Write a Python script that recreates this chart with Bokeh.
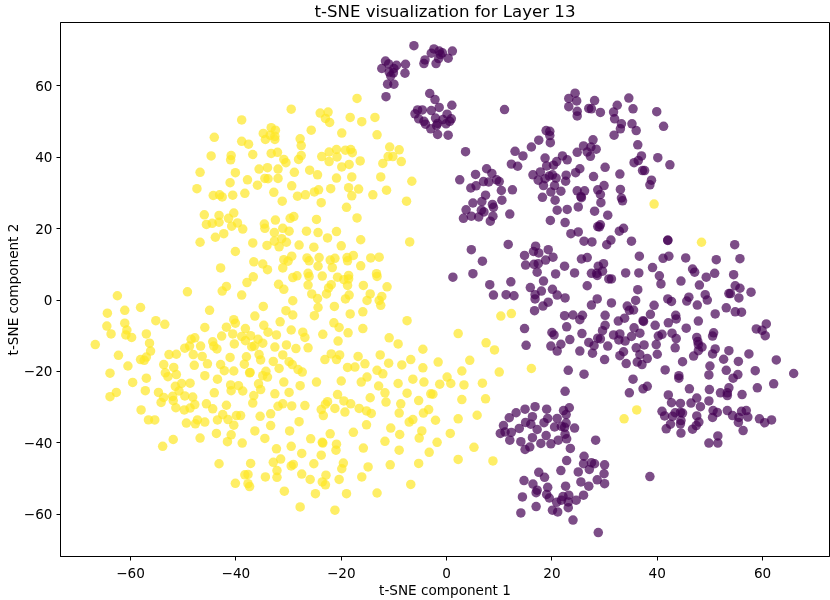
from bokeh.plotting import figure
from bokeh.models import FixedTicker, Range1d
from bokeh.embed import file_html
from bokeh.resources import INLINE

title_text = "t-SNE visualization for Layer 13"
x_label = "t-SNE component 1"
y_label = "t-SNE component 2"
tick_values = [-60, -40, -20, 0, 20, 40, 60]
y_tick_values = [-60, -40, -20, 0, 20, 40, 60]
x_limits = (-73.3, 72.7)
y_limits = (-71.9, 77.8)

class_1_upper = [
(-29.5,53.5),(-38.9,50.5),(-24.0,52.4),(-44.1,45.6),(-33.3,48.3),(-32.5,47.6),(-34.8,46.7),(-33.5,46.2),(-34.4,45.0),(-32.6,45.0),
(-32.6,45.9),(-25.7,47.6),(-27.8,45.2),(-27.6,43.3),(-38.9,44.5),(-37.6,43.7),(-44.7,40.4),(-40.9,40.5),(-41.0,39.3),(-36.8,40.8),
(-33.3,41.1),(-32.1,41.4),(-30.9,39.4),(-30.5,38.5),(-28.1,39.4),(-27.6,40.5),(-23.7,40.2),(-46.8,35.8),(-40.1,35.7),(-35.6,36.7),
(-34.0,37.1),(-32.0,36.7),(-28.9,35.8),(-26.0,36.4),(-24.5,35.1),(-41.1,32.9),(-37.8,33.7),(-34.5,34.1),(-33.9,34.0),(-32.0,34.1),
(-47.4,31.2),(-35.9,32.2),(-29.4,32.0),(-44.3,29.3),(-43.1,29.5),(-42.6,28.9),(-40.6,29.4),(-38.3,29.9),(-32.8,30.2),(-31.2,27.7),
(-28.3,29.1),(-26.8,29.5),(-25.1,30.3),(-24.3,30.9),(-23.8,27.3),
(-17.0,56.5),(-22.5,52.7),(-23.0,50.9),(-22.2,49.8),(-18.3,51.2),(-16.1,50.0),(-13.6,51.2),(-19.9,46.8),(-13.2,46.3),(-22.3,41.5),
(-20.9,42.2),(-20.8,40.1),(-22.3,38.8),(-19.2,42.0),(-18.2,42.2),(-17.9,41.3),(-16.4,39.0),(-18.5,38.0),(-19.9,37.3),(-20.9,34.2),
(-18.0,34.5),(-22.0,31.2),(-18.6,31.5),(-16.7,31.1),(-18.0,29.2),(-14.0,29.5),(-11.4,30.8),(-19.0,26.0),(-7.6,27.7),(-6.6,33.3),
(-12.5,34.5),(-12.1,38.3),(-11.1,40.2),(-10.2,40.2),(-10.8,42.9),(-9.0,42.1),(-8.6,38.8),
]

class_1_middle = [
(-46.0,23.9),(-43.2,23.7),(-40.4,24.4),(-41.4,22.9),(-44.5,21.5),(-45.6,21.2),(-43.2,21.8),(-39.7,21.6),(-40.8,20.7),(-38.7,19.9),
(-34.6,21.3),(-34.5,20.1),(-32.5,22.4),(-29.7,22.9),(-29.0,23.4),(-24.7,22.6),(-17.0,23.0),(-31.1,20.1),(-29.9,19.3),(-32.7,18.9),
(-26.6,19.3),(-24.4,18.9),(-20.9,19.2),(-22.6,17.4),(-16.3,16.9),(-7.0,16.3),(-43.9,17.6),(-42.3,18.6),(-46.8,16.2),(-36.8,16.0),
(-34.1,15.3),(-32.7,16.5),(-31.3,17.2),(-30.4,16.2),(-31.8,14.9),(-28.0,15.4),(-25.2,14.8),(-20.0,15.2),(-40.1,13.6),(-29.4,12.3),
(-30.9,11.3),(-30.1,10.9),(-36.6,10.7),(-34.9,10.1),(-34.0,8.5),(-31.1,9.0),(-42.9,9.0),(-26.5,11.8),(-26.1,11.0),(-24.2,11.9),
(-21.2,11.7),(-22.1,11.2),(-24.4,9.5),(-21.7,9.1),(-18.9,11.9),(-17.7,12.5),(-18.8,11.0),(-16.3,9.6),(-14.4,11.8),(-12.8,12.0),
(-26.3,7.5),(-26.1,6.6),(-28.4,6.8),(-29.2,6.3),(-23.6,6.7),(-20.7,6.4),(-18.6,6.9),(-19.5,5.7),(-18.6,5.9),(-13.3,7.4),
(-13.2,6.6),(-36.7,6.5),(-37.9,4.9),(-41.8,3.8),(-42.6,2.5),(-31.9,4.4),(-30.9,3.0),(-26.3,4.2),(-21.9,4.3),(-22.4,3.4),
(-22.8,1.7),(-18.8,4.1),(-15.8,4.1),(-11.3,3.7),(-38.9,1.4),(-25.6,1.7),(-24.5,0.4),(-18.5,1.4),(-19.2,0.3),(-14.5,1.7),
(-15.1,-0.1),(-12.3,1.0),(-12.8,-0.1),(-12.5,-1.5),(-29.2,-0.2),(-34.8,-1.8),(-24.4,-2.1),(-21.3,-1.8),(-45.0,-2.9),(-30.5,-3.0),
(-29.2,-4.2),(-25.1,-4.4),(-18.3,-3.9),(-15.9,-3.3),(-7.5,-5.8),(-36.4,-4.5),(-40.4,-5.5),(-40.1,-6.5),(-31.6,-6.1),(-21.4,-6.4),
(-34.7,-7.1),(-45.9,-7.7),(-41.8,-7.6),(-38.2,-8.0),(-29.5,-8.4),(-20.4,-7.7),(-15.9,-8.0),
]

class_1_left = [
(-62.5,1.2),(-49.2,2.3),(-58.1,-2.1),(-64.4,-3.7),(-61.1,-2.9),(-55.2,-5.8),(-53.5,-6.8),(-64.5,-7.3),(-61.1,-6.5),(-60.7,-8.4),
(-63.7,-9.5),(-60.9,-9.8),(-59.8,-10.5),(-57.0,-9.5),(-66.7,-12.5),(-56.4,-12.1),(-56.2,-14.3),(-62.3,-15.5),(-57.0,-16.0),(-58.1,-16.7),
(-57.4,-16.9),(-60.5,-18.5),(-63.9,-20.5),(-52.7,-15.3),(-51.3,-15.2),(-53.7,-18.1),(-51.8,-18.9),(-53.4,-20.4),(-52.9,-21.5),(-51.3,-20.9),
(-57.0,-21.9),(-59.6,-23.1),(-57.2,-25.4),(-62.7,-25.9),(-63.9,-27.1),(-54.7,-25.9),(-53.7,-27.3),(-54.2,-28.7),(-51.5,-24.2),(-50.3,-23.4),
(-48.7,-23.3),(-50.8,-25.5),(-52.0,-27.0),(-51.9,-28.2),(-49.7,-26.9),(-51.4,-30.2),(-49.8,-30.8),(-48.7,-30.3),(-58.0,-30.8),(-56.6,-33.6),
(-55.4,-33.6),(-49.4,-34.5),(-51.9,-39.1),(-53.9,-41.0),
(-47.8,-10.6),(-48.5,-11.0),(-48.8,-12.9),(-49.7,-13.5),(-46.7,-12.9),(-44.4,-11.7),(-44.2,-12.9),(-43.6,-13.7),(-42.7,-10.1),(-40.6,-9.5),
(-40.3,-12.3),(-38.9,-10.2),(-38.2,-11.4),(-37.2,-10.0),(-35.8,-11.0),(-34.9,-12.1),(-33.9,-9.0),(-32.3,-9.8),(-32.6,-13.2),(-37.0,-13.1),
(-36.5,-12.9),(-48.1,-15.3),(-46.4,-15.8),(-45.4,-17.9),(-47.9,-18.3),(-42.9,-18.1),(-42.2,-19.8),(-41.1,-16.1),(-40.4,-19.9),(-38.0,-15.9),
(-38.4,-18.0),(-35.6,-15.3),(-35.3,-16.8),(-32.9,-17.2),(-37.3,-20.3),(-37.4,-20.4),(-34.3,-20.0),(-34.9,-21.2),(-34.0,-21.6),(-31.8,-19.2),
(-45.9,-21.2),(-43.5,-22.2),(-41.0,-23.8),(-39.5,-24.0),(-40.9,-25.4),(-38.7,-25.5),(-35.7,-23.5),(-35.3,-25.1),(-32.6,-26.3),(-44.1,-26.0),
(-36.6,-26.8),(-36.8,-28.9),(-48.2,-27.2),(-47.8,-29.3),(-45.6,-29.1),(-44.4,-30.5),(-41.8,-29.5),(-32.0,-29.8),(-42.5,-32.1),(-39.9,-32.4),
(-39.1,-32.4),(-33.4,-31.9),(-35.4,-32.6),(-43.5,-33.6),(-41.5,-33.5),(-47.3,-33.6),(-47.7,-34.7),(-45.9,-34.2),(-40.4,-35.1),(-33.4,-35.2),
(-36.4,-36.7),(-43.7,-37.4),(-40.9,-37.8),(-46.8,-38.7),(-41.6,-39.7),(-38.8,-40.1),(-34.5,-38.8),(-32.3,-41.7),(-43.2,-45.9),(-37.2,-45.8),
(-32.9,-45.5),(-31.5,-44.6),(-32.2,-47.8),(-38.3,-49.0),(-37.7,-48.9),(-34.4,-49.6),(-32.2,-49.7),(-40.1,-51.4),(-37.7,-51.5),(-37.4,-52.3),
]

class_1_lower = [
(-27.3,-9.0),(-26.9,-10.5),(-23.5,-9.6),(-18.7,-9.2),(-10.9,-10.6),(-9.2,-12.3),(2.2,-9.4),(7.5,-12.0),(9.1,-14.0),(-30.4,-12.6),
(-28.6,-13.6),(-26.3,-13.4),(-20.6,-11.5),(-4.5,-13.8),(-31.1,-15.4),(-29.9,-17.3),(-29.3,-18.1),(-28.2,-19.5),(-27.4,-20.2),(-23.1,-16.7),
(-21.9,-15.1),(-20.3,-15.4),(-20.9,-16.7),(-16.8,-15.8),(-15.5,-17.9),(-12.6,-15.4),(-11.0,-17.7),(-8.5,-18.2),(-6.8,-16.7),(-4.5,-19.0),
(-1.6,-17.4),(4.4,-16.9),(2.9,-19.9),(10.0,-20.2),(-18.8,-18.9),(-17.4,-18.8),(-13.2,-19.7),(-12.1,-20.7),(-15.1,-21.6),(-16.2,-23.0),
(-20.0,-22.7),(-24.7,-23.0),(-30.9,-23.0),(-27.8,-24.0),(-12.9,-24.1),(-9.2,-23.4),(-6.4,-22.2),(-4.3,-23.0),(-1.3,-23.6),(0.1,-21.6),
(0.8,-23.4),(3.3,-23.8),(6.8,-23.3),(-29.9,-25.9),(-20.7,-26.5),(-11.7,-26.0),(-7.5,-26.1),(-3.0,-26.3),(-2.6,-26.4),(-14.5,-27.4),
(-11.5,-28.6),(-5.3,-28.2),(2.9,-27.9),(7.4,-27.7),(-22.6,-28.5),(-23.0,-29.2),(-19.5,-28.3),(-18.2,-29.1),(-31.1,-29.1),(-29.4,-29.7),
(-26.9,-29.6),(-21.2,-30.4),(-23.8,-30.7),(-16.6,-30.4),(-15.2,-31.1),(-14.3,-31.8),(-19.3,-31.4),(-8.7,-29.1),(-9.0,-31.7),(-3.4,-30.7),
(-4.4,-31.7),(-23.4,-32.4),(-28.0,-34.1),(-15.2,-35.0),(-6.4,-33.5),(-7.1,-34.2),(-2.1,-33.7),(2.2,-33.3),(5.8,-32.3),(-10.6,-35.9),
(-29.8,-36.7),(-17.7,-37.1),(-22.1,-37.5),(-4.7,-36.7),(-8.9,-37.7),(-5.2,-38.7),(0.7,-37.4),(-25.8,-38.9),(-23.6,-39.9),(-23.5,-40.1),
(-11.7,-39.6),(-20.9,-40.4),(-1.8,-39.9),(-29.5,-41.0),(-15.8,-41.5),(-21.0,-42.1),(-9.0,-42.1),(5.2,-41.3),(-3.3,-42.7),(-27.5,-43.0),
(-23.8,-43.5),(2.2,-44.7),(8.8,-45.1),(-5.3,-45.8),(-10.7,-46.2),(-25.2,-45.9),(-19.6,-45.7),(-19.9,-47.3),(-14.9,-46.8),(-29.1,-46.1),
(-29.5,-46.5),(-27.5,-48.8),(-22.9,-49.1),(-25.9,-50.3),(-20.4,-50.3),(-16.1,-49.6),(-23.6,-51.0),(-23.0,-51.8),(-6.8,-51.7),(-30.8,-53.6),
(-24.9,-54.3),(-19.0,-54.3),(-13.2,-54.1),(-27.8,-58.0),(-21.2,-58.9),
(10.3,-4.5),(12.3,-3.8),(16.1,-19.2),(39.4,26.9),(48.4,16.2),(36.1,-30.8),(33.7,-33.3),
]

class_0_top = [
(-6.2,71.3),(-2.4,70.4),(-2.9,69.2),(-1.4,69.8),(-0.8,69.3),(-1.2,68.8),(-1.5,67.7),(1.1,69.8),(0.3,67.8),(-4.1,67.3),
(-4.3,66.3),(-2.0,66.3),(-11.6,67.0),(-11.0,66.2),(-12.3,64.9),(-9.5,65.8),(-7.8,66.1),(-10.0,64.9),(-10.9,63.9),(-10.1,63.7),
(-7.9,63.6),(-10.6,62.8),(-11.2,60.5),(-10.0,60.5),(-11.5,57.0),(-3.2,57.9),(-2.2,56.2),(-1.4,54.0),(1.0,54.6),(11.0,53.4),
(-5.5,53.3),(-6.0,52.2),(-4.6,53.3),(-2.9,53.1),(-5.3,50.8),(-4.3,50.1),(-4.0,49.3),(-2.1,51.0),(0.1,52.1),(0.9,50.8),
(-0.1,49.4),(0.6,50.1),(-1.7,49.5),(-1.9,48.9),(-3.0,48.0),(-1.7,46.4),(0.3,46.2),(-0.7,50.6),
]

class_0_upper = [
(24.4,58.0),(23.2,56.5),(24.7,55.8),(23.2,54.2),(28.1,55.9),(34.6,56.6),(24.8,52.9),(24.8,51.6),(27.0,53.7),(27.5,53.6),
(29.2,52.6),(32.4,54.6),(31.7,52.7),(31.9,50.8),(35.4,53.6),(39.9,52.8),(33.2,49.4),(33.0,48.0),(35.2,49.4),(36.0,47.5),
(41.2,48.7),(31.8,46.2),(36.3,43.5),(18.9,47.5),(19.6,47.3),(19.6,46.1),(17.5,44.8),(19.7,44.1),(16.1,42.9),(3.6,41.6),
(13.0,41.7),(14.5,40.4),(12.3,38.1),(13.5,37.5),(18.7,39.8),(22.0,40.4),(22.9,39.3),(20.9,38.8),(20.3,37.8),(19.0,37.6),
(24.8,41.4),(26.0,43.2),(27.8,44.9),(28.4,42.3),(27.4,42.9),(26.7,41.5),(27.3,40.3),(37.0,40.4),(35.6,38.5),(36.4,39.1),
(40.1,39.9),(42.4,37.9),(37.2,36.3),(37.6,36.3),(38.9,33.6),(38.6,32.3),(25.3,36.8),(24.5,35.7),(22.7,35.0),(22.6,33.3),
(30.1,37.2),(27.9,34.6),(32.9,35.3),(16.4,35.1),(17.8,35.9),(17.4,33.6),(19.5,34.8),(20.1,35.1),(18.7,34.0),(20.8,34.2),
(18.4,32.1),(20.5,32.1),(19.8,30.3),(21.7,30.5),(18.2,28.8),(20.6,28.0),(24.8,30.6),(26.2,30.6),(25.5,29.0),(25.6,28.7),
(28.7,30.9),(29.9,32.1),(29.2,29.6),(33.0,31.0),(33.2,28.6),(33.4,27.8),(29.3,27.3),(25.0,26.1),(22.9,25.4),(21.0,25.2),
(28.1,24.9),(30.6,23.8),(19.7,22.3),(22.5,21.7),(29.0,20.5),(29.2,21.1),(28.7,20.6),(33.6,20.1),(32.8,19.3),(23.6,18.6),
(25.0,19.1),(31.2,16.8),(26.1,16.5),(27.6,16.3),(30.4,15.5),(35.1,16.5),(42.0,16.8),(11.7,15.6),(16.9,15.1),
(2.5,33.7),(5.5,35.2),(7.6,36.8),(8.6,35.5),(4.6,31.4),(5.6,32.0),(7.0,33.2),(8.0,33.1),(9.5,33.7),(10.0,33.2),
(10.4,30.7),(12.5,30.9),(7.4,29.4),(10.5,28.0),(5.0,27.2),(6.7,27.6),(8.7,26.8),(8.9,26.0),(3.7,25.3),(6.6,25.2),
(7.1,24.7),(12.0,24.1),(4.7,23.5),(3.2,22.9),(6.1,23.3),(8.8,23.5),(8.3,22.1),
]

class_0_center = [
(4.7,14.1),(6.8,10.9),(5.0,7.4),(1.2,6.4),(14.8,12.5),(16.5,13.6),(17.5,13.2),(19.3,14.1),(15.0,9.8),(16.6,10.0),
(17.4,10.2),(18.8,11.2),(20.2,12.0),(17.2,7.8),(20.7,7.3),(22.4,9.5),(24.3,7.6),(25.6,11.5),(26.7,11.9),(28.8,9.5),
(29.8,10.2),(27.5,7.5),(28.5,7.5),(29.6,8.1),(28.6,6.9),(30.8,5.9),(31.3,5.9),(34.0,7.6),(36.6,12.3),(36.5,7.6),
(26.7,4.0),(8.2,4.3),(12.2,5.1),(18.4,5.3),(15.9,3.5),(8.9,1.4),(11.3,1.5),(12.8,1.2),(18.0,2.5),(20.1,3.0),
(21.0,1.4),(22.5,0.6),(16.8,1.5),(16.8,0.3),(19.3,-0.6),(18.3,-1.7),(16.7,-3.0),(28.6,0.3),(27.5,-1.4),(31.3,-0.8),
(36.3,2.9),(35.9,-0.1),(34.3,-1.7),(34.7,-2.9),(35.5,-2.8),(22.4,-4.4),(24.0,-4.2),(25.8,-4.3),(25.3,-5.5),(30.1,-4.3),
(32.6,-5.9),(33.8,-5.1),(30.1,-7.1),(22.8,-7.5),(29.6,-8.6),(35.6,-7.8),(20.0,-9.1),(20.4,-9.8),(25.7,-9.4),(14.8,-8.0),
(15.1,-12.7),(23.4,-11.1),(31.7,-9.8),(32.9,-9.5),(32.7,-11.2),(33.9,-11.5),(35.1,-10.2),(28.7,-10.7),(29.2,-10.9),(27.0,-11.9),
(28.0,-12.8),(19.8,-12.9),(21.7,-12.4),(21.0,-14.3),(25.3,-14.3),(27.7,-14.9),(30.6,-12.9),(33.6,-14.5),(32.9,-15.6),(36.0,-13.4),
(30.0,-16.7),(34.1,-17.8),(36.2,-17.4),(23.1,-19.7),(26.1,-20.8),(35.4,-22.2),(34.7,-26.0),
]

class_0_right = [
(42.0,16.7),(54.7,15.5),(41.1,11.7),(42.2,12.3),(45.4,11.8),(51.2,11.3),(55.7,11.6),(39.1,9.1),(46.7,8.7),(47.1,7.8),
(40.4,6.8),(40.7,4.5),(44.5,5.3),(49.3,6.4),(50.9,7.5),(54.5,7.1),(48.0,4.2),(54.8,4.0),(55.7,3.3),(57.8,2.2),
(53.6,1.8),(53.9,1.8),(55.5,0.6),(49.1,1.5),(49.5,0.0),(46.0,0.8),(45.6,-0.3),(42.0,0.3),(42.7,-0.4),(39.4,-1.5),
(47.6,-1.4),(53.1,-2.2),(54.8,-3.3),(56.0,-3.4),(51.0,-3.9),(38.7,-4.0),(43.5,-4.3),(43.6,-5.3),(47.8,-5.9),(37.4,-6.0),
(37.3,-5.8),(42.1,-6.4),(39.6,-7.1),(45.5,-7.9),(60.7,-6.7),(58.8,-8.1),(59.9,-8.5),(60.5,-10.0),(36.7,-9.3),(40.9,-9.6),
(42.8,-9.3),(40.2,-10.1),(43.6,-10.8),(50.7,-9.2),(50.5,-10.1),(47.5,-10.5),(47.7,-11.6),(47.8,-12.5),(48.5,-13.2),(39.8,-12.5),
(37.5,-12.6),(43.4,-13.4),(51.0,-13.7),(53.6,-14.2),(47.8,-14.2),(36.7,-15.3),(40.0,-15.2),(46.9,-15.7),(50.5,-15.1),(57.4,-15.1),
(38.1,-16.4),(37.1,-18.1),(44.8,-17.3),(52.6,-16.6),(55.4,-17.2),(62.6,-16.8),(41.5,-19.6),(50.0,-18.5),(53.1,-19.7),(58.6,-19.8),
(65.9,-20.6),(49.8,-21.0),(55.3,-20.9),(54.4,-21.9),(44.1,-21.2),(44.1,-21.9),(38.1,-24.2),(37.3,-24.9),(46.1,-24.9),(49.9,-25.1),
(53.6,-24.6),(52.0,-26.0),(53.3,-26.0),(53.3,-26.8),(56.1,-26.5),(59.0,-24.6),(62.1,-23.5),(42.1,-26.6),(47.5,-27.5),(42.7,-28.8),
(46.4,-28.9),(49.8,-28.3),(44.4,-29.0),(48.2,-29.9),(40.9,-31.2),(41.4,-32.5),(43.4,-31.6),(44.4,-31.5),(42.9,-32.6),(44.8,-31.7),
(50.6,-31.0),(51.4,-31.5),(50.5,-32.9),(53.3,-31.0),(54.3,-32.4),(56.0,-31.2),(56.9,-31.0),(55.5,-32.9),(57.2,-32.8),(55.4,-34.3),
(59.4,-33.3),(60.4,-34.4),(61.7,-33.6),(56.3,-36.6),(47.5,-32.5),(44.5,-33.8),(47.9,-34.2),(44.4,-34.7),(42.5,-34.8),(47.4,-35.2),
(46.7,-36.2),(41.7,-36.1),(44.5,-37.3),(51.5,-38.1),(49.8,-40.1),(51.5,-40.1),
]

class_0_lower = [
(22.5,-25.6),(23.3,-30.2),(22.2,-31.0),(22.7,-32.1),(19.0,-30.6),(16.8,-29.9),(14.9,-30.6),(13.2,-31.6),(11.9,-33.0),(16.3,-32.7),
(19.2,-33.2),(21.0,-33.2),(18.5,-34.4),(15.0,-34.3),(16.0,-34.8),(10.8,-35.2),(13.8,-36.0),(17.2,-36.3),(20.5,-35.6),(21.8,-35.4),
(22.7,-34.5),(22.4,-35.7),(24.3,-35.9),(10.2,-37.4),(11.1,-37.0),(12.3,-37.1),(22.5,-37.6),(18.9,-38.0),(16.3,-38.6),(22.8,-38.9),
(21.2,-39.3),(12.0,-39.3),(14.1,-39.7),(17.9,-40.2),(19.8,-40.3),(28.3,-39.3),(15.8,-41.2),(14.9,-41.9),(23.5,-41.6),(26.1,-43.8),
(22.8,-45.0),(26.0,-45.9),(27.5,-45.6),(28.1,-45.9),(30.0,-46.2),(27.1,-47.5),(21.7,-47.8),(25.0,-48.2),(29.9,-48.7),(17.5,-48.3),
(18.6,-49.7),(28.6,-50.4),(14.7,-50.6),(25.5,-51.0),(30.0,-51.5),(16.4,-51.6),(27.0,-52.2),(22.6,-52.2),(19.2,-52.5),(17.2,-53.3),
(17.0,-54.0),(19.0,-54.5),(14.4,-55.2),(19.5,-55.5),(26.0,-54.7),(23.2,-54.7),(22.1,-55.1),(24.6,-56.1),(21.8,-56.1),(20.9,-56.7),
(23.1,-56.6),(17.0,-57.9),(23.1,-58.2),(20.1,-58.9),(21.1,-59.4),(14.1,-59.7),(24.0,-61.7),(28.8,-65.2),(38.6,-49.5),
]

yellow = class_1_upper + class_1_middle + class_1_left + class_1_lower
purple = class_0_top + class_0_upper + class_0_center + class_0_right + class_0_lower

p = figure(
    width=830, height=600, margin=0,
    styles={"position": "fixed", "left": "0px", "top": "0px"},
    output_backend="svg", toolbar_location=None,
    x_range=Range1d(*x_limits), y_range=Range1d(*y_limits),
    min_border_left=60, min_border_right=1, min_border_top=22, min_border_bottom=44,
    title=title_text, title_location="above",
    x_axis_label=x_label, y_axis_label=y_label,
)
p.grid.visible = False
p.outline_line_color = "black"
p.outline_line_width = 1
p.background_fill_color = "white"

p.title.align = "center"
p.title.vertical_align = "top"
p.title.text_font = "DejaVu Sans"
p.title.text_font_size = "16.6px"
p.title.text_font_style = "normal"
p.title.text_color = "black"
p.title.standoff = 0
p.title.offset = 0
p.title.text_line_height = 1.25

for ax, ticks in ((p.xaxis[0], tick_values), (p.yaxis[0], y_tick_values)):
    ax.ticker = FixedTicker(ticks=ticks)
    ax.minor_tick_line_color = None
    ax.major_tick_in = 0
    ax.major_tick_out = 4
    ax.major_tick_line_color = "black"
    ax.axis_line_color = "black"
    ax.major_label_text_font = "DejaVu Sans"
    ax.major_label_text_font_size = "13.6px"
    ax.major_label_text_color = "black"
    ax.axis_label_text_font = "DejaVu Sans"
    ax.axis_label_text_font_size = "13.6px"
    ax.axis_label_text_font_style = "normal"
    ax.axis_label_text_color = "black"
p.xaxis[0].major_label_standoff = 7
p.xaxis[0].axis_label_standoff = 1
p.yaxis[0].major_label_standoff = 4
p.yaxis[0].axis_label_standoff = 0

p.scatter([q[0] for q in purple], [q[1] for q in purple], size=9.5, marker="circle",
          fill_color="#440154", line_color="#440154", fill_alpha=0.7, line_alpha=0.7, line_width=0)
p.scatter([q[0] for q in yellow], [q[1] for q in yellow], size=9.5, marker="circle",
          fill_color="#fde725", line_color="#fde725", fill_alpha=0.7, line_alpha=0.7, line_width=0)

open("out.html", "w").write(file_html(p, INLINE))
